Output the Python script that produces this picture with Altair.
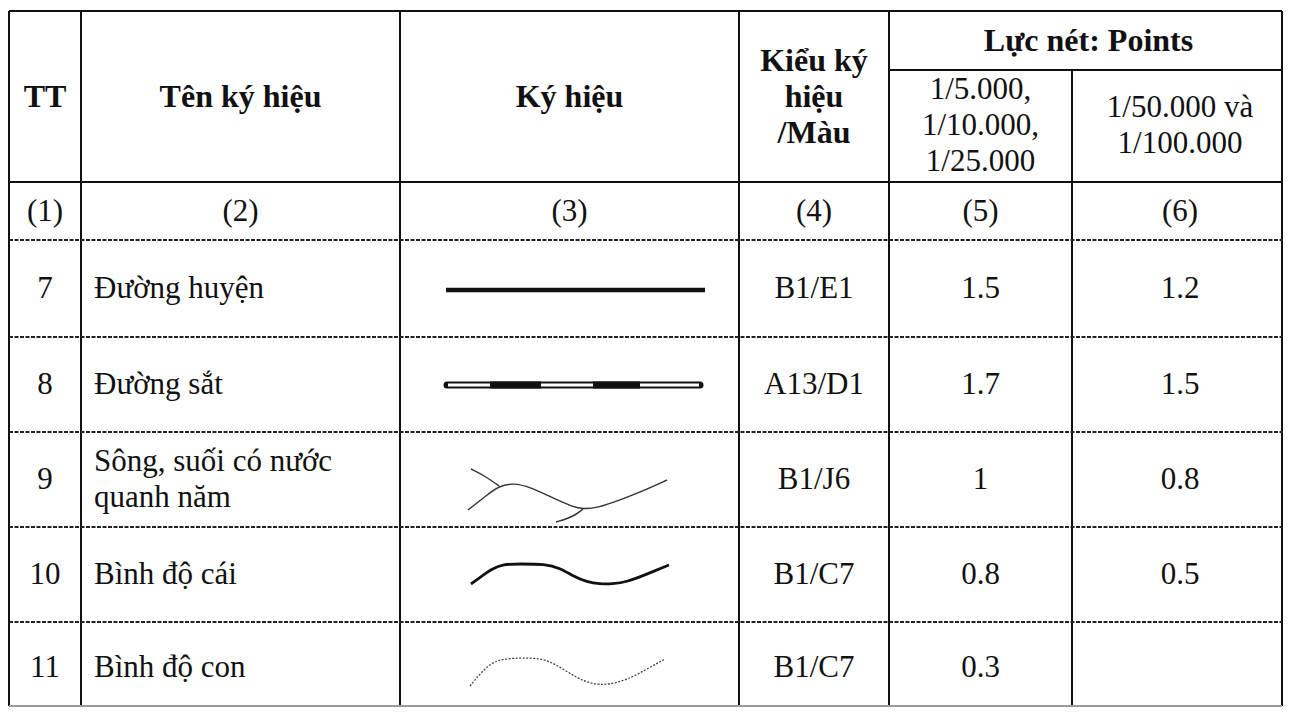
import altair as alt
import pandas as pd

# ---------------- table content ----------------
tt = ["7", "8", "9", "10", "11"]
names = [["Đường huyện"], ["Đường sắt"], ["Sông, suối có nước", "quanh năm"],
         ["Bình độ cái"], ["Bình độ con"]]
symbol_type = ["B1/E1", "A13/D1", "B1/J6", "B1/C7", "B1/C7"]
weight_5k_25k = ["1.5", "1.7", "1", "0.8", "0.3"]
weight_50k_100k = ["1.2", "1.5", "0.8", "0.5", ""]
col_numbers = ["(1)", "(2)", "(3)", "(4)", "(5)", "(6)"]
header_main = [["TT"], ["Tên ký hiệu"], ["Ký hiệu"], ["Kiểu ký", "hiệu", "/Màu"]]
header_group = "Lực nét: Points"
header_sub = [["1/5.000,", "1/10.000,", "1/25.000"], ["1/50.000 và", "1/100.000"]]

# symbol sketches (dx from left of column 3, dy from row centre)
sym_road = [(46, 1.5), (305, 1.5)]
sym_rail = [(47, 0.5), (300, 0.5)]
sym_rail_black = [[(90, 0.5), (141, 0.5)], [(193, 0.5), (240, 0.5)]]
sym_river = [
    [(68, 30.5), (87, 15.5), (99, 6.5), (113, 3.5), (130, 7.5), (153, 18.5), (173, 27.5),
     (183, 29.5), (197, 28.5), (220, 20.5), (243, 11.5), (267, 0.5)],
    [(71, -10.5), (85, -3.5), (99, 6.5)],
    [(156, 42.5), (173, 37.5), (183, 29.5)],
]
sym_index_contour = [(71, 9.5), (82, 1.5), (92, -5.5), (103, -10.5), (120, -10.5), (145, -10.5),
                     (160, -6.5), (173, 1.5), (187, 7.5), (200, 9.5), (212, 9.5), (227, 7.5),
                     (247, -0.5), (269, -9.5)]
sym_contour = [(70, 18.5), (83, 2.5), (97, -8.5), (120, -9.5), (143, -9.5), (160, -0.5),
               (177, 10.5), (192, 16.5), (207, 17.5), (227, 12.5), (247, 1.5), (265, -8.5)]

# ---------------- layout (page pixels) ----------------
W, H = 1275, 699
col_edges = [9, 81, 400, 739, 889, 1072, 1288]
RIGHT = 1282
TOP, SUB, HEAD_BOT, NUM_BOT = 11, 70, 182, 240
row_edges = [240, 337, 432, 527, 622, 713]
BOTTOM = 706
FS = 31
FS_BOLD = 32
LH = 36
NAME_X = 94
INK = "#111111"
FONT = "Liberation Serif"

col_c = [(col_edges[i] + col_edges[i + 1]) / 2 for i in range(6)]
row_c = [(row_edges[i] + row_edges[i + 1]) / 2 for i in range(5)]


def lines_at(x, yc, lines, kind):
    n = len(lines)
    return [dict(x=x, y=yc + (k - (n - 1) / 2) * LH, t=s, kind=kind) for k, s in enumerate(lines)]


texts = []
for j, lines in enumerate(header_main):
    texts += lines_at(col_c[j], (TOP + HEAD_BOT) / 2, lines, "bold")
texts += lines_at((col_edges[4] + col_edges[6]) / 2, (TOP + SUB) / 2, [header_group], "bold")
for j, lines in enumerate(header_sub):
    texts += lines_at(col_c[4 + j], (SUB + HEAD_BOT) / 2, lines, "reg")
for j, s in enumerate(col_numbers):
    texts += lines_at(col_c[j], (HEAD_BOT + NUM_BOT) / 2 + 1, [s], "reg")
for i in range(5):
    texts += lines_at(col_c[0], row_c[i], [tt[i]], "reg")
    texts += lines_at(NAME_X, row_c[i], names[i], "left")
    texts += lines_at(col_c[3], row_c[i], [symbol_type[i]], "reg")
    texts += lines_at(col_c[4], row_c[i], [weight_5k_25k[i]], "reg")
    if weight_50k_100k[i]:
        texts += lines_at(col_c[5], row_c[i], [weight_50k_100k[i]], "reg")
tdf = pd.DataFrame(texts)

# grid lines
solid = []
for k, x in enumerate(col_edges):
    xx = min(x, RIGHT)
    y1 = SUB if k == 5 else TOP
    solid.append(dict(x=xx, x2=xx, y=y1, y2=BOTTOM))
solid.append(dict(x=col_edges[0], x2=RIGHT, y=TOP, y2=TOP))
solid.append(dict(x=col_edges[4], x2=RIGHT, y=SUB, y2=SUB))
solid.append(dict(x=col_edges[0], x2=RIGHT, y=HEAD_BOT, y2=HEAD_BOT))
dashed = [dict(x=col_edges[0], x2=RIGHT, y=y, y2=y) for y in row_edges[:-1]]
bottom = [dict(x=col_edges[0], x2=RIGHT, y=BOTTOM, y2=BOTTOM)]

xs = alt.Scale(domain=[8, 8 + W], nice=False, zero=False)
ys = alt.Scale(domain=[8, 8 + H], nice=False, zero=False, reverse=True)
X = alt.X("x:Q", scale=xs, axis=None)
Y = alt.Y("y:Q", scale=ys, axis=None)


def rules(rows, **kw):
    return alt.Chart(pd.DataFrame(rows)).mark_rule(**kw).encode(
        x=X, x2="x2:Q", y=Y, y2="y2:Q")


def shape_df(segs, row):
    out = []
    for sid, seg in enumerate(segs):
        for k, (dx, dy) in enumerate(seg):
            out.append(dict(x=col_edges[2] + dx, y=row_c[row] + dy, seg=sid, o=k))
    return pd.DataFrame(out)


def line(df, **kw):
    return alt.Chart(df).mark_line(**kw).encode(
        x=X, y=Y, detail="seg:N", order="o:Q")


layers = [
    rules(solid, color=INK, strokeWidth=2),
    rules(dashed, color="#222222", strokeWidth=2, strokeDash=[4, 1.5]),
    rules(bottom, color="#9a9a9a", strokeWidth=2),
]

layers.append(alt.Chart(tdf[tdf.kind == "bold"]).mark_text(
    align="center", fontWeight="bold", font=FONT, fontSize=FS_BOLD, baseline="middle",
    color=INK).encode(x=X, y=Y, text="t:N"))
layers.append(alt.Chart(tdf[tdf.kind == "reg"]).mark_text(
    align="center", font=FONT, fontSize=FS, baseline="middle",
    color=INK).encode(x=X, y=Y, text="t:N"))
layers.append(alt.Chart(tdf[tdf.kind == "left"]).mark_text(
    align="left", font=FONT, fontSize=FS, baseline="middle",
    color=INK).encode(x=X, y=Y, text="t:N"))

# symbols
layers.append(line(shape_df([sym_road], 0), color=INK, strokeWidth=4.5, strokeCap="butt"))
layers.append(line(shape_df([sym_rail], 1), color=INK, strokeWidth=7, strokeCap="round"))
layers.append(line(shape_df([[(a + 1, b) for a, b in sym_rail]], 1).assign(
    x=lambda d: d.x.where(d.o == 0, d.x - 2)), color="white", strokeWidth=3, strokeCap="butt"))
layers.append(line(shape_df(sym_rail_black, 1), color=INK, strokeWidth=7, strokeCap="butt"))
layers.append(line(shape_df(sym_river, 2), color="#333333", strokeWidth=1.4,
                   interpolate="basis"))
layers.append(line(shape_df([sym_index_contour], 3), color=INK, strokeWidth=2.8,
                   interpolate="basis"))
layers.append(line(shape_df([sym_contour], 4), color="#444444", strokeWidth=1.3,
                   strokeDash=[2, 1.5], interpolate="basis"))

chart = alt.layer(*layers).properties(
    width=W, height=H,
    autosize=alt.AutoSizeParams(type="fit", contains="padding"),
    padding=0,
).configure_view(stroke=None)

chart.save("out.html", embed_options={"renderer": "svg", "actions": False})
